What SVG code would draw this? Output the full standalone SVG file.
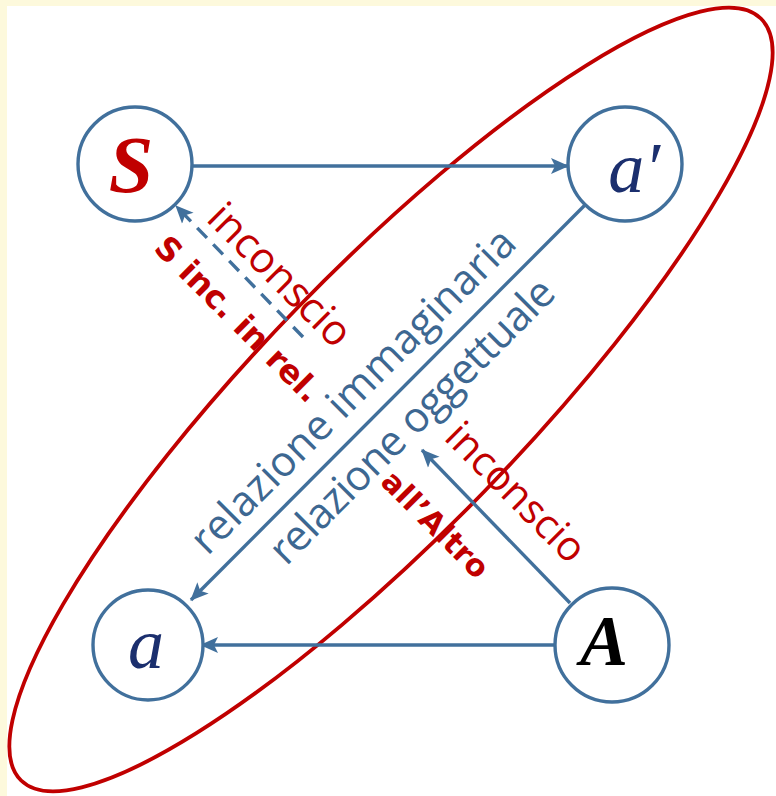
<svg xmlns="http://www.w3.org/2000/svg" width="776" height="796" viewBox="0 0 776 796">
<style>
.node{fill:#ffffff;stroke:#41709c;stroke-width:3.4}
.conn{fill:none;stroke:#41709c;stroke-width:3.4}
.dash{stroke-dasharray:14 9}
.sym{font-family:"Liberation Serif",serif;font-style:italic;text-anchor:middle}
.lbl{font-family:"Open Sans",sans-serif;text-anchor:middle}
.bold{font-family:"DejaVu Sans",sans-serif;font-weight:bold;fill:#c00000;text-anchor:middle}
.red{fill:#c00000}
.blue{fill:#3d6791}
</style>
<defs>
<marker id="arr" markerUnits="userSpaceOnUse" markerWidth="20" markerHeight="18" refX="17" refY="8.5" orient="auto">
<path d="M0,0.5 L18,8.5 L0,16.5 L4,8.5 z" fill="#41709c"/>
</marker>
</defs>
<rect x="0" y="0" width="776" height="796" fill="#fdf9dc"/>
<rect x="7" y="6" width="769" height="790" fill="#ffffff"/>
<g id="ellipse">
<ellipse cx="391" cy="399.5" rx="531" ry="131" transform="rotate(-45.85 391 399.5)" fill="none" stroke="#c00000" stroke-width="3.8"/>
</g>
<g id="connectors">
<path class="conn" d="M193,166 L568,166" marker-end="url(#arr)"/>
<path class="conn" d="M555,645 L201,645" marker-end="url(#arr)"/>
<path class="conn" d="M585,205 L191,600" marker-end="url(#arr)"/>
<path class="conn" d="M570,603 L422,450" marker-end="url(#arr)"/>
<path class="conn dash" d="M303,337 L176,206" marker-end="url(#arr)"/>
</g>
<g id="node-S">
<circle class="node" cx="135" cy="164" r="57"/>
<text class="sym" x="131" y="192" font-size="80" font-weight="bold" fill="#c00000">S</text>
</g>
<g id="node-aprime">
<circle class="node" cx="625" cy="164" r="57"/>
<text class="sym" x="634" y="192" font-size="72" fill="#1b2f6e">a′</text>
</g>
<g id="node-a">
<circle class="node" cx="148" cy="645" r="55"/>
<text class="sym" x="146" y="668" font-size="72" fill="#1b2f6e">a</text>
</g>
<g id="node-A">
<circle class="node" cx="612" cy="645" r="57"/>
<text class="sym" x="604" y="665" font-size="72" font-weight="bold" fill="#000000">A</text>
</g>
<g id="labels">
<text class="lbl red" font-size="42" transform="translate(270,285) rotate(45)">inconscio</text>
<text class="lbl red" font-size="41" transform="translate(506,502) rotate(45)">inconscio</text>
<text class="bold" font-size="32.5" transform="translate(230,327) rotate(45)">S inc. in rel.</text>
<text class="bold" font-size="30.5" transform="translate(428,532) rotate(45)">all’Altro</text>
<text class="lbl blue" font-size="42" textLength="440" transform="translate(363,401) rotate(-45)">relazione immaginaria</text>
<text class="lbl blue" font-size="42" textLength="384" transform="translate(422,431) rotate(-45)">relazione oggettuale</text>
</g>
</svg>
